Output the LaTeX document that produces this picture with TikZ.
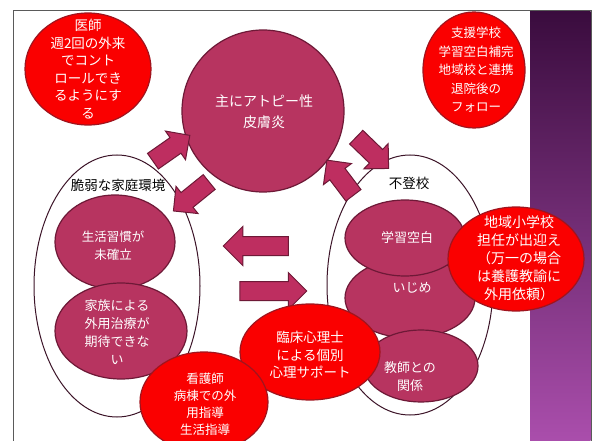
\documentclass[tikz,border=0pt]{standalone}
\usepackage{fontspec}
\newfontfamily\jp{Noto Sans CJK JP}
\usetikzlibrary{shapes.geometric,shapes.arrows}
\definecolor{berry}{RGB}{183,52,96}
\definecolor{berryline}{RGB}{110,25,55}
\definecolor{bubred}{RGB}{250,0,0}
\definecolor{bubline}{RGB}{160,20,30}
\definecolor{purtop}{RGB}{58,12,62}
\definecolor{purbot}{RGB}{170,78,172}
\definecolor{arrowfill}{RGB}{190,46,96}
\definecolor{frameline}{RGB}{90,90,90}
\definecolor{outlcol}{RGB}{60,20,40}
\begin{document}
\begin{tikzpicture}[x=1pt,y=-1pt,
  every node/.style={font=\jp},
  redbub/.style={ellipse, draw=bubline, line width=1.2pt, fill=bubred, inner sep=0pt},
  berrybub/.style={ellipse, draw=berryline, line width=1.2pt, fill=berry, inner sep=0pt},
  outl/.style={ellipse, draw=outlcol, line width=1pt, inner sep=0pt},
  wtxt/.style={text=white, align=center, inner sep=0pt},
  lbl/.style={text=black, inner sep=0pt, font=\jp\fontsize{13.5}{16}\selectfont},
  barrow/.style={single arrow, draw=berryline, line width=1pt, fill=arrowfill,
     inner xsep=0pt, inner ysep=9pt, text height=0pt, text depth=0pt,
     single arrow tip angle=90, single arrow head extend=8pt},
  fs/.style 2 args={font=\jp\fontsize{#1}{#2}\selectfont}
]
\useasboundingbox (0,0) rectangle (592,441);
\fill[white] (0,0) rectangle (592,441);
\draw[frameline, line width=1pt, fill=white] (13,11) rectangle (591,445);
\shade[top color=purtop, bottom color=purbot] (530,11.5) rectangle (590.5,441);

% outline groups
\node[outl, minimum width=166pt, minimum height=262pt] (famO) at (117,286) {};
\node[outl, minimum width=166pt, minimum height=260pt] (schO) at (410,285) {};

% central circle
\node[berrybub, minimum width=162pt, minimum height=162pt] (main) at (263,111) {};
\node[wtxt, fs={14}{21}] (mainT) at (264,112) {主にアトピー性\\皮膚炎};

% family side
\node[berrybub, minimum width=120pt, minimum height=94pt] (habit) at (115,242) {};
\node[wtxt, fs={12.5}{18}] (habitT) at (113,246) {生活習慣が\\未確立};
\node[berrybub, minimum width=132pt, minimum height=96pt] (family) at (121,331) {};
\node[wtxt, fs={13}{18}] (familyT) at (117,332) {家族による\\外用治療が\\期待できな\\い};

% school side
\node[berrybub, minimum width=130pt, minimum height=80pt] (ijime) at (410,298) {};
\node[berrybub, minimum width=114pt, minimum height=72pt] (kyoshi) at (421,366) {};
\node[berrybub, minimum width=120pt, minimum height=76pt] (gaku) at (405,238) {};
\node[wtxt, fs={13}{18}] (gakuT) at (407,238) {学習空白};
\node[wtxt, fs={13}{18}] (ijimeT) at (412,288) {いじめ};
\node[wtxt, fs={13}{18}] (kyoshiT) at (410,377) {教師との\\関係};

% labels
\node[lbl] (famL) at (118,185) {脆弱な家庭環境};
\node[lbl] (schL) at (409,183) {不登校};

% block arrows
\node[barrow, minimum height=45pt, rotate=35] (a1) at (167.5,151) {};
\node[barrow, minimum height=46pt, rotate=219] (a2) at (195,193.5) {};
\node[barrow, minimum height=45pt, rotate=-44] (a3) at (369,149.5) {};
\node[barrow, minimum height=44pt, rotate=127] (a4) at (343,181.5) {};
\node[barrow, minimum height=65pt, single arrow head extend=10pt, rotate=180] (a5) at (260.5,246) {};
\node[barrow, minimum height=67pt, single arrow head extend=9pt] (a6) at (268.5,291) {};

% red bubbles
\node[redbub, minimum width=126pt, minimum height=112pt] (doc) at (88,69) {};
\node[wtxt, fs={13.5}{17.5}] (docT) at (88,69) {医師\\週2回の外来\\でコント\\ロールでき\\るようにす\\る};
\node[redbub, minimum width=102pt, minimum height=116pt] (supp) at (474,70) {};
\node[wtxt, fs={12.5}{18.5}] (suppT) at (476,70) {支援学校\\学習空白補完\\地域校と連携\\退院後の\\フォロー};
\node[redbub, minimum width=136pt, minimum height=104pt] (chiiki) at (516,259) {};
\node[wtxt, fs={14}{18}] (chiikiT) at (519,258) {地域小学校\\担任が出迎え\\（万一の場合\\は養護教諭に\\外用依頼）};
\node[redbub, minimum width=140pt, minimum height=96pt] (rinsho) at (310,352) {};
\node[wtxt, fs={13.5}{17.5}] (rinshoT) at (310,355) {臨床心理士\\による個別\\心理サポート};
\node[redbub, minimum width=128pt, minimum height=100pt] (kango) at (204,402) {};
\node[wtxt, fs={12.5}{17}] (kangoT) at (205,404) {看護師\\病棟での外\\用指導\\生活指導};
\end{tikzpicture}
\end{document}
